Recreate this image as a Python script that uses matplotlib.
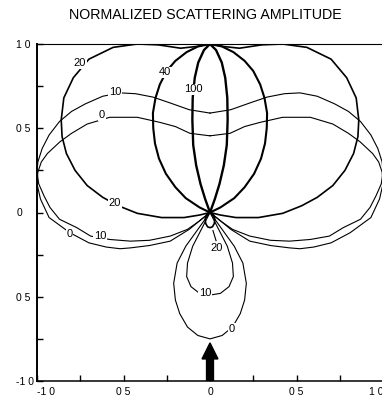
import numpy as np
import matplotlib
matplotlib.use("Agg")
import matplotlib.pyplot as plt
from matplotlib.patches import FancyArrow

plt.rcParams['font.family'] = ['Liberation Sans', 'DejaVu Sans']

# Right-half outlines (x >= 0) of each pattern; the left half is its mirror image.
amp100_x = [0.0, 0.035, 0.068, 0.088, 0.100, 0.102, 0.097, 0.080, 0.055, 0.028, 0.0]
amp100_y = [1.0, 0.964, 0.89, 0.80, 0.68, 0.55, 0.40, 0.28, 0.17, 0.08, 0.0]

amp40_x = [0.0, 0.07, 0.135, 0.20, 0.25, 0.29, 0.315, 0.33, 0.328, 0.318, 0.295, 0.255, 0.20, 0.14, 0.06, 0.0]
amp40_y = [1.0, 0.985, 0.952, 0.90, 0.84, 0.76, 0.68, 0.59, 0.50, 0.41, 0.32, 0.23, 0.15, 0.085, 0.03, 0.0]

amp20_x = [0.0, 0.08, 0.17, 0.30, 0.42, 0.56, 0.70, 0.79, 0.845, 0.86, 0.855, 0.83, 0.78, 0.71,
           0.62, 0.53, 0.42, 0.28, 0.15, 0.06, 0.0, 0.02, 0.028, 0.025, 0.014, 0.0]
amp20_y = [1.0, 0.985, 0.975, 0.995, 1.0, 0.98, 0.91, 0.80, 0.68, 0.55, 0.45, 0.35, 0.25, 0.16,
           0.09, 0.04, -0.005, -0.03, -0.03, -0.015, 0.0, -0.015, -0.04, -0.065, -0.085, -0.09]

amp10_x = [0.0, 0.12, 0.23, 0.33, 0.43, 0.52, 0.62, 0.72, 0.80, 0.87, 0.93, 0.97, 0.995, 1.0,
           0.99, 0.96, 0.925, 0.87, 0.77, 0.69, 0.58, 0.46, 0.35, 0.23, 0.13, 0.06, 0.0,
           0.05, 0.10, 0.13, 0.135, 0.11, 0.06, 0.0]
amp10_y = [0.59, 0.61, 0.65, 0.685, 0.705, 0.71, 0.69, 0.645, 0.60, 0.54, 0.46, 0.38, 0.30, 0.24,
           0.17, 0.10, 0.03, -0.04, -0.09, -0.14, -0.16, -0.17, -0.165, -0.14, -0.10, -0.05, 0.0,
           -0.10, -0.20, -0.30, -0.38, -0.44, -0.48, -0.49]

amp0_x = [0.0, 0.116, 0.20, 0.29, 0.42, 0.58, 0.71, 0.80, 0.867, 0.94, 0.975, 0.995, 1.0,
          0.98, 0.93, 0.81, 0.70, 0.60, 0.52, 0.46, 0.35, 0.23, 0.12, 0.05, 0.0,
          0.07, 0.14, 0.19, 0.21, 0.20, 0.175, 0.13, 0.07, 0.0]
amp0_y = [0.455, 0.47, 0.51, 0.535, 0.565, 0.565, 0.525, 0.47, 0.42, 0.35, 0.30, 0.24, 0.17,
          0.08, -0.03, -0.12, -0.18, -0.205, -0.215, -0.21, -0.196, -0.17, -0.10, -0.04, 0.0,
          -0.10, -0.20, -0.30, -0.42, -0.52, -0.60, -0.68, -0.73, -0.75]

curves = [
    (amp0_x, amp0_y, 0.8),
    (amp10_x, amp10_y, 0.8),
    (amp20_x, amp20_y, 1.2),
    (amp40_x, amp40_y, 1.5),
    (amp100_x, amp100_y, 1.7),
]

# Curve labels: text, x, y
label_text = ["20", "10", "0", "40", "100", "20", "0", "10", "20", "10", "0"]
label_x = [-0.751, -0.549, -0.624, -0.26, -0.098, -0.549, -0.81, -0.636, 0.04, -0.03, 0.127]
label_y = [0.887, 0.714, 0.577, 0.833, 0.732, 0.054, -0.125, -0.137, -0.208, -0.476, -0.69]

xticks = [-1.0, -0.5, 0.0, 0.5, 1.0]
xtick_labels = ["-1 0", "0 5", "0", "0 5", "1 0"]
yticks = [-1.0, -0.5, 0.0, 0.5, 1.0]
ytick_labels = ["-1 0", "0 5", "0", "0 5", "1 0"]
minor_ticks = [-0.75, -0.25, 0.25, 0.75]

# incident-wave arrow along the axis of symmetry
arrow_base = (0.0, -1.0)
arrow_tip = (0.0, -0.774)

W, H = 382, 399
fig = plt.figure(figsize=(W / 100, H / 100), dpi=100)
ax = fig.add_axes([37 / W, 18 / H, 346 / W, 337 / H])
ax.set_xlim(-1.0, 1.0)
ax.set_ylim(-1.0, 1.0)

for cx, cy, lw in curves:
    cx = np.asarray(cx)
    cy = np.asarray(cy)
    fx = np.concatenate([cx, -cx[::-1]])
    fy = np.concatenate([cy, cy[::-1]])
    ax.plot(fx, fy, color='black', lw=lw, solid_joinstyle='round', solid_capstyle='round')

for t, lx, ly in zip(label_text, label_x, label_y):
    ax.text(lx, ly, t, fontsize=8, ha='center', va='center', zorder=5,
            bbox=dict(boxstyle='square,pad=0.05', fc='white', ec='none'))

# pointer from the lower "20" label to its small back lobe
ax.plot([0.035, 0.017], [-0.167, -0.107], color='black', lw=0.8)

ax.add_patch(FancyArrow(arrow_base[0], arrow_base[1], 0.0, arrow_tip[1] - arrow_base[1],
                        width=0.04, head_width=0.092, head_length=0.095,
                        length_includes_head=True, color='black', zorder=6))

ax.spines['right'].set_visible(False)
ax.spines['left'].set_linewidth(1.4)
ax.spines['bottom'].set_linewidth(1.1)
ax.spines['top'].set_linewidth(0.8)

ax.set_xticks(xticks)
ax.set_xticks(minor_ticks, minor=True)
ax.set_yticks(yticks)
ax.set_yticks(minor_ticks, minor=True)
ax.set_xticklabels(xtick_labels)
ax.set_yticklabels(ytick_labels, ha='left')
ax.tick_params(axis='both', which='both', direction='in', length=4, width=1.0,
               labelsize=7.5, top=False, right=False)
ax.tick_params(axis='y', which='major', pad=15)
ax.tick_params(axis='x', which='major', pad=4)
ax.get_xticklabels()[0].set_ha('left')
ax.get_xticklabels()[-1].set_ha('right')

fig.text(205 / W, 1 - 15 / H, "NORMALIZED SCATTERING AMPLITUDE", ha='center', va='center',
         fontsize=10.3)

fig.savefig("out.png", dpi=100, facecolor='white')
